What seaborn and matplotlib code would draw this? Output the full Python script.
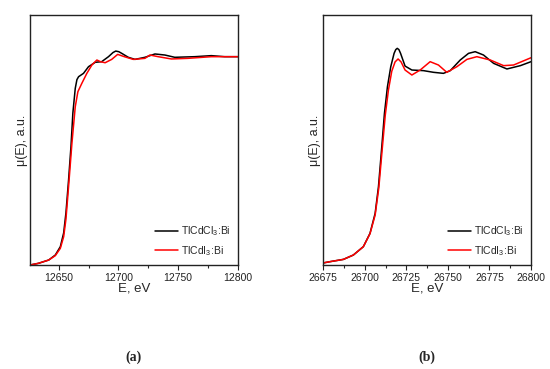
import matplotlib
matplotlib.use("Agg")
import matplotlib.pyplot as plt
import numpy as np
import pandas as pd
import seaborn as sns
from matplotlib.ticker import MultipleLocator

# panel (a): Tl L-edge region, normalised absorption
e_a_cl = [12626, 12633, 12641.7, 12647.2, 12651.4, 12654.2, 12656.1, 12658.3, 12660.3,
          12661.9, 12663.9, 12665.3, 12666.7, 12670.8, 12675, 12680.6, 12686, 12691.7,
          12695.5, 12697.8, 12700.3, 12702.8, 12708.3, 12713.9, 12722.2, 12730.6,
          12738.9, 12747.2, 12763.9, 12777.8, 12788.9, 12800]
mu_a_cl = [0.0, 0.008, 0.024, 0.048, 0.088, 0.154, 0.25, 0.408, 0.568,
           0.73, 0.848, 0.89, 0.904, 0.92, 0.952, 0.973, 0.976, 1.0,
           1.02, 1.027, 1.024, 1.016, 0.997, 0.987, 0.997, 1.013,
           1.008, 0.997, 1.0, 1.005, 1.0, 1.0]
e_a_i = [12626, 12633, 12641.7, 12647.2, 12651.4, 12654.2, 12656.1, 12658.3, 12661.1,
         12663.9, 12666.1, 12669.4, 12673.6, 12677.8, 12682, 12685, 12688.9, 12694.4,
         12699.4, 12705, 12712.5, 12722.2, 12726.4, 12733.3, 12744.4, 12758, 12777.8,
         12800]
mu_a_i = [0.0, 0.008, 0.024, 0.045, 0.08, 0.136, 0.22, 0.376, 0.584,
          0.76, 0.832, 0.872, 0.92, 0.96, 0.984, 0.976, 0.971, 0.987,
          1.011, 1.0, 0.987, 0.992, 1.008, 1.0, 0.989, 0.992, 1.0,
          1.0]

# panel (b): Cd K-edge region
e_b_cl = [26675, 26679, 26687.1, 26693.1, 26699.1, 26703.1, 26706.2, 26708.2, 26710.2,
          26711.8, 26713.6, 26715.6, 26717.6, 26718.6, 26719.5, 26720.5, 26721.5, 26724.2,
          26728.3, 26735.3, 26741.3, 26747.3, 26751.4, 26757.4, 26762.4, 26766.4,
          26771.4, 26777.5, 26785.5, 26793.6, 26800]
mu_b_cl = [0.01, 0.016, 0.027, 0.048, 0.088, 0.152, 0.248, 0.376, 0.568,
           0.728, 0.856, 0.952, 1.016, 1.034, 1.04, 1.034, 1.016, 0.955,
           0.936, 0.933, 0.925, 0.92, 0.933, 0.984, 1.016, 1.024,
           1.008, 0.968, 0.941, 0.957, 0.976]
e_b_i = [26675, 26679, 26687.1, 26693.1, 26699.1, 26703.1, 26706.2, 26708.4, 26710.5,
         26712.3, 26714.2, 26716.2, 26718.2, 26720.0, 26721.8, 26724.2, 26728.3, 26733.3,
         26739.3, 26744.3, 26749.3, 26755.4, 26761.4, 26767.4, 26775.5, 26783.5,
         26789.5, 26800]
mu_b_i = [0.01, 0.016, 0.027, 0.048, 0.088, 0.15, 0.24, 0.37, 0.56,
          0.72, 0.84, 0.93, 0.975, 0.989, 0.975, 0.936, 0.912, 0.936,
          0.976, 0.96, 0.925, 0.952, 0.987, 1.0, 0.984, 0.957,
          0.96, 0.995]

labels = ["TlCdCl$_\\mathregular{3}$:Bi", "TlCdI$_\\mathregular{3}$:Bi"]
palette = {labels[0]: "#000000", labels[1]: "#ff0000"}


def make_frame(e1, m1, e2, m2):
    d1 = pd.DataFrame({"E": e1, "mu": m1, "sample": labels[0]})
    d2 = pd.DataFrame({"E": e2, "mu": m2, "sample": labels[1]})
    return pd.concat([d1, d2], ignore_index=True)


sns.set_theme(style="ticks")
plt.rcParams["font.family"] = ["Liberation Sans", "DejaVu Sans"]
plt.rcParams["mathtext.fontset"] = "custom"
plt.rcParams["mathtext.rm"] = "Liberation Sans"

fig = plt.figure(figsize=(5.5, 3.69), dpi=100)
ax_a = fig.add_axes([0.0545, 0.2818, 0.378, 0.6775])
ax_b = fig.add_axes([0.5878, 0.2818, 0.3777, 0.6775])

panels = [
    (ax_a, make_frame(e_a_cl, mu_a_cl, e_a_i, mu_a_i), (12626, 12800), 50, 25, "(a)"),
    (ax_b, make_frame(e_b_cl, mu_b_cl, e_b_i, mu_b_i), (26675, 26800), 25, 12.5, "(b)"),
]

for ax, df, xlim, major, minor, tag in panels:
    sns.lineplot(data=df, x="E", y="mu", hue="sample", palette=palette,
                 linewidth=1.1, ax=ax, sort=False, estimator=None)
    ax.set_xlim(*xlim)
    ax.set_ylim(0, 1.2)
    ax.xaxis.set_major_locator(MultipleLocator(major))
    ax.xaxis.set_minor_locator(MultipleLocator(minor))
    ax.set_yticks([])
    ax.tick_params(axis="x", which="major", direction="out", length=3.5, width=0.8,
                   labelsize=7.5, pad=2, colors="#222222")
    ax.tick_params(axis="x", which="minor", direction="out", length=2, width=0.8)
    for sp in ax.spines.values():
        sp.set_visible(True)
        sp.set_linewidth(1.0)
        sp.set_color("#222222")
    ax.set_xlabel("E, eV", fontsize=9.5, labelpad=0)
    ax.set_ylabel("μ(E), a.u.", fontsize=9, labelpad=1.5)
    ax.legend(loc="lower right", frameon=False, fontsize=7.5, handlelength=2.2,
              handletextpad=0.3, labelspacing=0.55, borderaxespad=0.3, title=None)
    pos = ax.get_position()
    fig.text((pos.x0 + pos.x1) / 2, 1 - 357 / 369, tag, ha="center", va="center",
             fontsize=10, fontweight="bold", family=["Liberation Serif", "DejaVu Serif"])

fig.savefig("out.png", dpi=100)
